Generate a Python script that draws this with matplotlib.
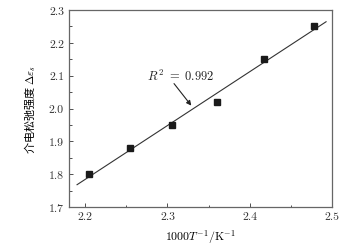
import numpy as np
import matplotlib
matplotlib.use("Agg")
import matplotlib.pyplot as plt
from matplotlib.ticker import MultipleLocator, FormatStrFormatter

plt.rcParams['font.family'] = ['DejaVu Serif', 'Noto Sans CJK SC']
plt.rcParams['mathtext.fontset'] = 'cm'

# data
inv_T = [2.204, 2.254, 2.306, 2.360, 2.418, 2.478]
delta_eps = [1.80, 1.88, 1.95, 2.02, 2.15, 2.25]
fit_range = [2.19, 2.493]

fig = plt.figure(figsize=(3.53, 2.51), dpi=100)
ax = fig.add_axes([0.195, 0.171, 0.745, 0.785])

k, b = np.polyfit(inv_T, delta_eps, 1)
xs = np.array(fit_range)
ax.plot(xs, k * xs + b, color='#333333', lw=0.8)
ax.plot(inv_T, delta_eps, 's', color='#1a1a1a', ms=4.5)

ax.text(2.316, 2.101, r'$R^2\ =\ 0.992$', fontsize=9, ha='center',
        va='center', color='#222222')
ax.annotate('', xy=(2.329, 2.009), xytext=(2.308, 2.076),
            arrowprops=dict(arrowstyle='-|>', color='#222222', lw=0.8,
                            mutation_scale=7, shrinkA=0, shrinkB=0))

ax.set_xlim(2.18, 2.5)
ax.set_ylim(1.7, 2.3)
ax.xaxis.set_major_locator(MultipleLocator(0.1))
ax.xaxis.set_minor_locator(MultipleLocator(0.05))
ax.yaxis.set_major_locator(MultipleLocator(0.1))
ax.yaxis.set_minor_locator(MultipleLocator(0.05))
ax.xaxis.set_major_formatter(FormatStrFormatter('%.1f'))
ax.yaxis.set_major_formatter(FormatStrFormatter('%.1f'))
ax.tick_params(which='both', direction='in', top=False, right=False,
               labelsize=8.5, colors='#333333')
ax.tick_params(which='major', length=3, width=0.6)
ax.tick_params(which='minor', length=1.8, width=0.6)
for lab in ax.get_xticklabels() + ax.get_yticklabels():
    lab.set_fontfamily('cmr10')
for s in ax.spines.values():
    s.set_color('#666666')
    s.set_linewidth(0.9)

ax.set_xlabel(r'$1000T^{-1}/\mathrm{K}^{-1}$', fontsize=8.5, labelpad=4)
ax.set_ylabel('介电松弛强度 $\\Delta\\varepsilon_s$', fontsize=8,
              family=['Noto Sans CJK SC', 'DejaVu Sans'], labelpad=8)

fig.savefig('out.png', dpi=100)
